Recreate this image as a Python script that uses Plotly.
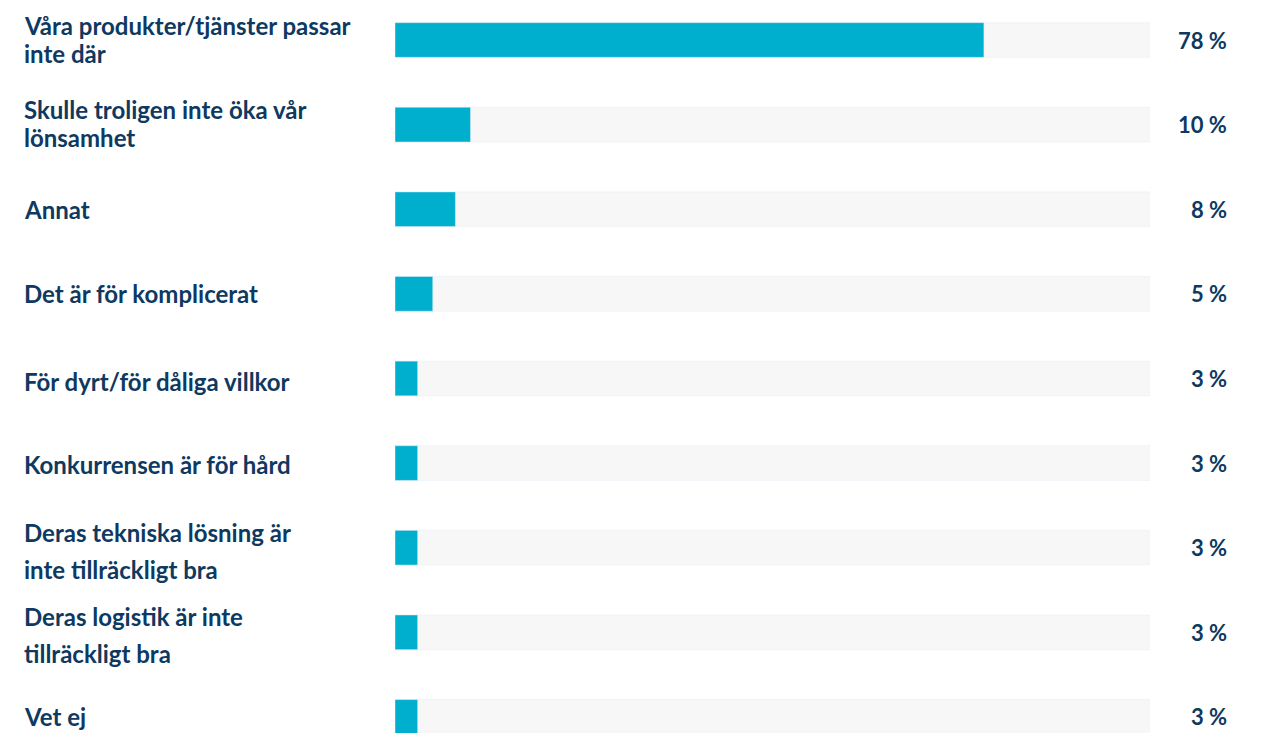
import plotly.graph_objects as go

categories = [
    ["Våra produkter/tjänster passar", "inte där"],
    ["Skulle troligen inte öka vår", "lönsamhet"],
    ["Annat"],
    ["Det är för komplicerat"],
    ["För dyrt/för dåliga villkor"],
    ["Konkurrensen är för hård"],
    ["Deras tekniska lösning är", "inte tillräckligt bra"],
    ["Deras logistik är inte", "tillräckligt bra"],
    ["Vet ej"],
]
values = [78, 10, 8, 5, 3, 3, 3, 3, 3]
value_labels = ["78 %", "10 %", "8 %", "5 %", "3 %", "3 %", "3 %", "3 %", "3 %"]
track = [100] * len(values)

TEAL = "#00AECE"
TRACK = "#F7F7F7"
NAVY = "#0E3960"
FONT = "Lato"

ypos = list(range(len(values)))
line_gap = [28, 28, 0, 0, 0, 0, 37, 37, 0]
label_offset = [1, 1, 0, 0, -3, -1, -3, -3, 0]

fig = go.Figure()
fig.add_trace(go.Bar(x=track, y=ypos, orientation="h", marker_color=TRACK,
                     width=0.41, hoverinfo="skip", showlegend=False))
fig.add_trace(go.Bar(x=values, y=ypos, orientation="h", marker_color=TEAL,
                     width=0.41, showlegend=False))

annotations = []
for i, lines in enumerate(categories):
    n = len(lines)
    for j, line in enumerate(lines):
        shift = ((n - 1) / 2 - j) * line_gap[i] + label_offset[i]
        annotations.append(dict(
            x=-0.494, xref="paper", y=i, yref="y", yshift=shift,
            text=line, showarrow=False, xanchor="left", yanchor="middle",
            font=dict(family=FONT, size=24, color=NAVY, weight="bold"),
        ))
    annotations.append(dict(
        x=1.104, xref="paper", y=i, yref="y",
        text=value_labels[i], showarrow=False, xanchor="right", yanchor="middle",
        font=dict(family=FONT, size=22, color=NAVY, weight="bold"),
    ))

fig.update_layout(
    width=1262, height=733,
    margin=dict(l=395, r=112, t=0, b=0),
    paper_bgcolor="white", plot_bgcolor="white",
    barmode="overlay",
    xaxis=dict(range=[0, 100], visible=False, fixedrange=True),
    yaxis=dict(range=[8.19, -0.473], visible=False, fixedrange=True),
    annotations=annotations,
    font=dict(family=FONT),
)

fig.write_html("out.html")
